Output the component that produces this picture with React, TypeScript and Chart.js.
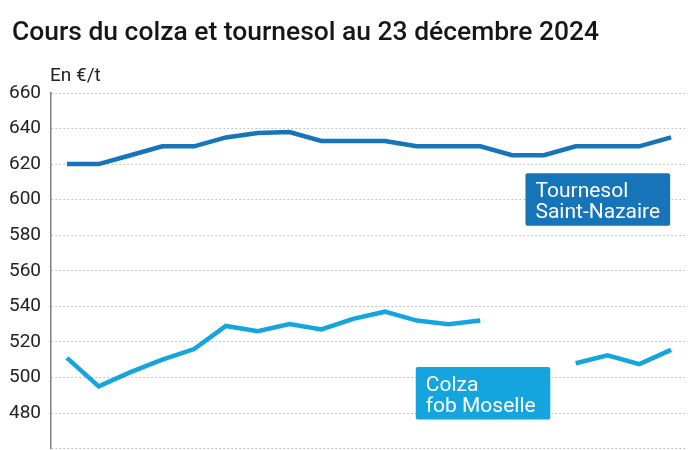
import React, { useEffect, useRef } from "react";
import { Chart, registerables } from "chart.js";

Chart.register(...registerables);

const TITLE = "Cours du colza et tournesol au 23 décembre 2024";
const UNIT = "En €/t";
const dates = [
  "25/11", "26/11", "27/11", "28/11", "29/11", "02/12", "03/12", "04/12", "05/12", "06/12",
  "09/12", "10/12", "11/12", "12/12", "13/12", "16/12", "17/12", "18/12", "19/12", "20/12",
];
const tournesol = [620, 620, 625, 630, 630, 635, 637.5, 638, 633, 633, 633, 630, 630, 630, 625, 625, 630, 630, 630, 635];
const colza = [511, 495, 503, 510, 516, 529, 526, 530, 527, 533, 537, 532, 530, 532, null, null, 508, 512.5, 507.5, 515.5];
const tournesolLabel = ["Tournesol", "Saint-Nazaire"];
const colzaLabel = ["Colza", "fob Moselle"];

const DARK = "#1674b9";
const LIGHT = "#14a5de";

const decorPlugin = {
  id: "decor",
  afterDraw(chart: any) {
    const ctx = chart.ctx;
    const x = chart.scales.x;
    const y = chart.scales.y;
    ctx.save();
    ctx.fillStyle = "#161616";
    ctx.textBaseline = "alphabetic";
    ctx.textAlign = "left";
    ctx.font = "500 26px Roboto";
    const w = ctx.measureText(TITLE).width;
    ctx.save();
    ctx.translate(12, 40);
    ctx.scale(587 / w, 1);
    ctx.fillText(TITLE, 0, 0);
    ctx.restore();
    ctx.fillStyle = "#222";
    ctx.font = "19px Roboto";
    ctx.fillText(UNIT, 50, 81);

    const box = (lines: string[], color: string, i0: number, i1: number, v0: number, v1: number) => {
      const step = x.getPixelForValue(1) - x.getPixelForValue(0);
      const left = x.getPixelForValue(0) + step * i0;
      const right = x.getPixelForValue(0) + step * i1;
      const top = y.getPixelForValue(v0);
      const bottom = y.getPixelForValue(v1);
      ctx.fillStyle = color;
      ctx.beginPath();
      ctx.roundRect(left, top, right - left, bottom - top, 2);
      ctx.fill();
      ctx.fillStyle = "#fff";
      ctx.font = "21px Roboto";
      ctx.fillText(lines[0], left + 10, top + 24);
      ctx.fillText(lines[1], left + 10, top + 45);
    };
    box(tournesolLabel, DARK, 14.42, 18.97, 614.8, 585.4);
    box(colzaLabel, LIGHT, 10.97, 15.2, 505.9, 476.3);
    ctx.restore();
  },
};

export default function App() {
  const ref = useRef<HTMLCanvasElement>(null);
  useEffect(() => {
    const chart = new Chart(ref.current!, {
      type: "line",
      data: {
        labels: dates,
        datasets: [
          {
            data: tournesol,
            borderColor: DARK,
            borderWidth: 4.5,
            pointRadius: 0,
            tension: 0,
            spanGaps: false,
          },
          {
            data: colza,
            borderColor: LIGHT,
            borderWidth: 4.5,
            pointRadius: 0,
            tension: 0,
            spanGaps: false,
          },
        ],
      },
      options: {
        animation: false,
        responsive: false,
        layout: { padding: { left: 0, right: 13, top: 93, bottom: 16 } },
        plugins: { legend: { display: false }, tooltip: { enabled: false }, title: { display: false } },
        scales: {
          x: { type: "category", offset: true, display: false },
          y: {
            min: 460,
            max: 660,
            ticks: {
              stepSize: 20,
              padding: 10,
              color: "#222",
              font: { family: "Roboto", size: 19 },
              callback: (v: any) => (v === 460 ? "" : String(v)),
            },
            grid: { color: "#b8b8b8", lineWidth: 1, drawTicks: false },
            border: { display: true, color: "#808080", width: 1.5, dash: [1.5, 2.5] },
            afterFit: (s: any) => {
              s.width = 51;
            },
          },
        },
      },
      plugins: [decorPlugin],
    });
    return () => chart.destroy();
  }, []);
  return (
    <div style={{ position: "absolute", left: 0, top: 0, width: 700, height: 470, background: "#fff" }}>
      <canvas ref={ref} width={700} height={470} style={{ display: "block" }} />
    </div>
  );
}
